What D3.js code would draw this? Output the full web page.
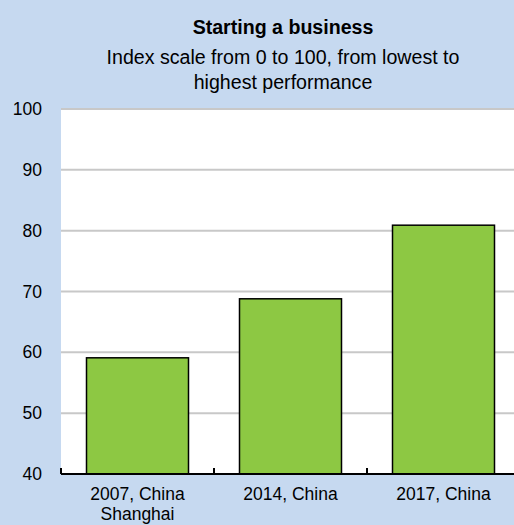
<!DOCTYPE html>
<html>
<head>
<meta charset="utf-8">
<script src="https://cdn.jsdelivr.net/npm/d3@7"></script>
<style>
  body { margin: 0; background: #c6d9f0; }
  svg { display: block; }
  text { font-family: "Liberation Sans", Arial, sans-serif; fill: #000; }
</style>
</head>
<body>
<div id="chart"></div>
<script>
// chart data
var categories = [["2007, China", "Shanghai"], ["2014, China"], ["2017, China"]];
var values = [59.1, 68.8, 80.9];
var yTicks = [40, 50, 60, 70, 80, 90, 100];
var titleText = "Starting a business";
var subtitleLines = ["Index scale from 0 to 100, from lowest to", "highest performance"];

var width = 514, height = 525;
// plot area runs off the right edge like in the original
var margin = {top: 109, right: -6, bottom: 51, left: 61};
var plotW = width - margin.left - margin.right,
    plotH = height - margin.top - margin.bottom;

var svg = d3.select("#chart")
  .append("svg")
    .attr("width", width)
    .attr("height", height);

svg.append("rect")
  .attr("width", width)
  .attr("height", height)
  .attr("fill", "#c6d9f0");

// titles
svg.append("text")
  .attr("x", 283)
  .attr("y", 34)
  .attr("text-anchor", "middle")
  .style("font-size", "19.6px")
  .style("font-weight", "bold")
  .text(titleText);

svg.selectAll(".subtitle")
  .data(subtitleLines)
  .enter()
  .append("text")
    .attr("class", "subtitle")
    .attr("x", 283)
    .attr("y", function (d, i) { return 64 + i * 25; })
    .attr("text-anchor", "middle")
    .style("font-size", "19.6px")
    .text(function (d) { return d; });

var g = svg.append("g")
  .attr("transform", "translate(" + margin.left + "," + margin.top + ")");

g.append("rect")
  .attr("width", plotW)
  .attr("height", plotH)
  .attr("fill", "#ffffff");

var x = d3.scaleBand()
  .domain(d3.range(categories.length))
  .range([0, plotW])
  .paddingInner(1 / 3)
  .paddingOuter(1 / 6);

var y = d3.scaleLinear()
  .domain([40, 100])
  .range([plotH, 0]);

// gridlines
g.selectAll(".grid")
  .data(yTicks.slice(1))
  .enter()
  .append("line")
    .attr("class", "grid")
    .attr("x1", 0)
    .attr("x2", plotW)
    .attr("y1", function (d) { return y(d); })
    .attr("y2", function (d) { return y(d); })
    .attr("stroke", "#c8c8c8")
    .attr("stroke-width", 2);

// y axis labels (no axis line)
var yAxis = g.append("g")
  .call(d3.axisLeft(y).tickValues(yTicks).tickSize(0).tickPadding(19));
yAxis.select(".domain").remove();
yAxis.selectAll("text")
  .style("font-size", "17.5px")
  .style("font-family", null);

// bars
g.selectAll(".bar")
  .data(values)
  .enter()
  .append("rect")
    .attr("class", "bar")
    .attr("x", function (d, i) { return x(i); })
    .attr("y", function (d) { return y(d); })
    .attr("width", x.bandwidth())
    .attr("height", function (d) { return plotH - y(d); })
    .attr("fill", "#8dc843")
    .attr("stroke", "#000")
    .attr("stroke-width", 1.5);

// x axis baseline + boundary ticks
var step = x.step();
g.append("line")
  .attr("x1", 0)
  .attr("x2", plotW)
  .attr("y1", plotH)
  .attr("y2", plotH)
  .attr("stroke", "#000")
  .attr("stroke-width", 2);

g.selectAll(".xtick")
  .data(d3.range(categories.length))
  .enter()
  .append("line")
    .attr("class", "xtick")
    .attr("x1", function (d) { return d * step; })
    .attr("x2", function (d) { return d * step; })
    .attr("y1", plotH)
    .attr("y2", plotH - 6)
    .attr("stroke", "#000")
    .attr("stroke-width", 2);

// category labels
var labels = g.selectAll(".xlabel")
  .data(categories)
  .enter()
  .append("text")
    .attr("class", "xlabel")
    .attr("text-anchor", "middle")
    .style("font-size", "17.5px")
    .attr("transform", function (d, i) {
      return "translate(" + (x(i) + x.bandwidth() / 2) + "," + (plotH + 26) + ")";
    });

labels.selectAll("tspan")
  .data(function (d) { return d; })
  .enter()
  .append("tspan")
    .attr("x", 0)
    .attr("dy", function (d, i) { return i === 0 ? 0 : 20; })
    .text(function (d) { return d; });
</script>
</body>
</html>
